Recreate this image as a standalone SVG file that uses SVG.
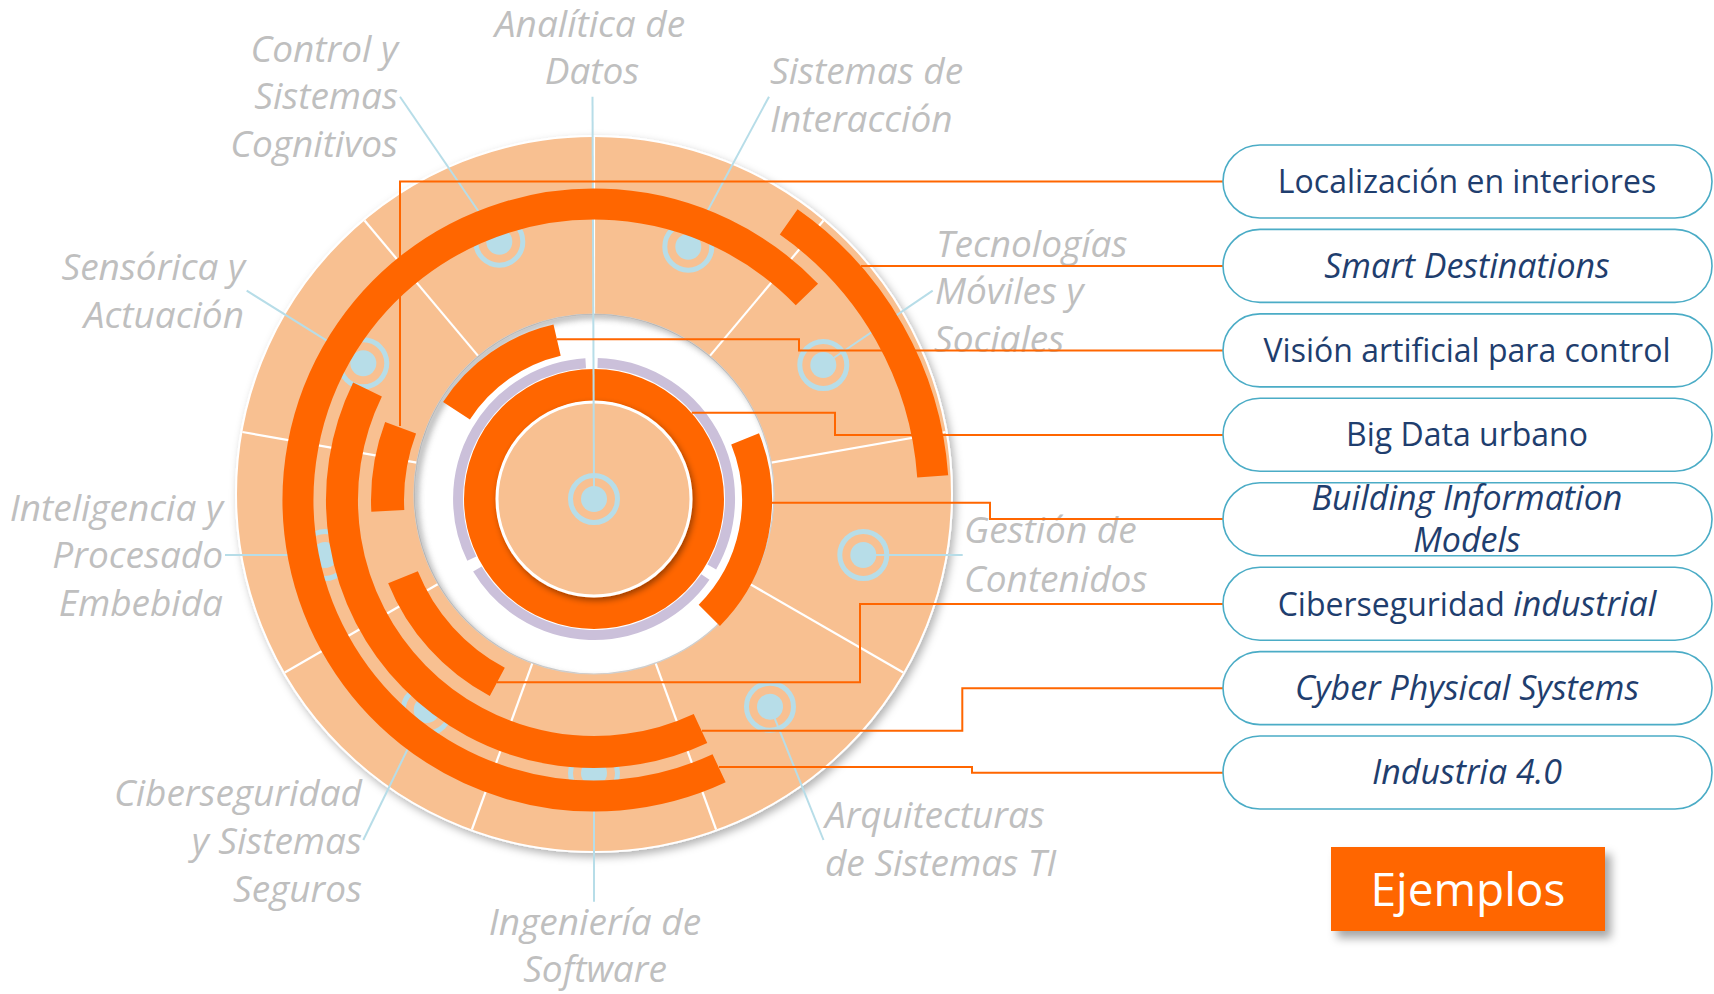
<svg xmlns="http://www.w3.org/2000/svg" width="1714" height="994" viewBox="0 0 1714 994">
<defs>
<style>
.lbl{font-family:"Open Sans","Noto Sans",sans-serif;font-style:italic;font-size:37px;fill:#BFBFBF}
.end{text-anchor:end}
.mid{text-anchor:middle}
.box{fill:#fff;stroke:#4BACC6;stroke-width:1.6}
.bt{font-family:"Open Sans","Noto Sans",sans-serif;font-size:32px;fill:#1F3E6E;text-anchor:middle}
.it{font-style:italic;font-size:34px}
.arc{fill:none;stroke:#FF6600;stroke-linecap:butt}
.conn{fill:none;stroke:#FF6600;stroke-width:2}
.lead{stroke:#B7DDE8;stroke-width:2;fill:none}
.sec{stroke:#fff;stroke-width:2.2}
.lav{fill:none;stroke:#CBC0DA;stroke-width:10}
</style>
<filter id="ds" x="-10%" y="-10%" width="130%" height="130%"><feDropShadow dx="3" dy="4" stdDeviation="4" flood-color="#000" flood-opacity="0.3"/></filter>
<filter id="ds2" x="-20%" y="-20%" width="150%" height="150%"><feDropShadow dx="2" dy="3" stdDeviation="3" flood-color="#000" flood-opacity="0.4"/></filter>
<filter id="ds3" x="-20%" y="-20%" width="150%" height="150%"><feDropShadow dx="6" dy="7" stdDeviation="5" flood-color="#000" flood-opacity="0.35"/></filter>
<filter id="blur3"><feGaussianBlur stdDeviation="3"/></filter>
<clipPath id="holeClip"><circle cx="594" cy="494" r="180"/></clipPath>
<g id="icon"><circle r="13" fill="#B7DDE8"/><circle r="23.5" fill="none" stroke="#B7DDE8" stroke-width="5"/></g>
</defs>
<rect width="1714" height="994" fill="#fff"/>

<g id="disc">
<circle cx="594" cy="494" r="358" fill="#F8C091" stroke="#fff" stroke-width="2" filter="url(#ds)"/>
<g class="sec">
<line x1="416.7" y1="462.7" x2="242.4" y2="432"/>
<line x1="478.3" y1="356.1" x2="364.5" y2="220.5"/>
<line x1="594" y1="314" x2="594" y2="137"/>
<line x1="709.7" y1="356.1" x2="823.5" y2="220.5"/>
<line x1="771.3" y1="462.7" x2="945.6" y2="432"/>
<line x1="749.9" y1="584" x2="903.2" y2="672.5"/>
<line x1="655.6" y1="663.1" x2="716.1" y2="829.5"/>
<line x1="532.4" y1="663.1" x2="471.9" y2="829.5"/>
<line x1="438.1" y1="584" x2="284.8" y2="672.5"/>
</g>
<circle cx="594" cy="494" r="180" fill="#fff" stroke="#D0D0D0" stroke-width="1.2"/>
<g clip-path="url(#holeClip)"><circle cx="598" cy="498" r="183" fill="none" stroke="#777" stroke-width="7" filter="url(#blur3)" opacity="0.55"/></g>
</g>

<g id="analitica-core">
<circle cx="594" cy="499" r="114" class="arc" stroke-width="32"/>
<path class="lav" d="M597.6,363 A136,136 0 0 1 711.8,567"/>
<path class="lav" d="M705.4,577 A136,136 0 0 1 477.4,569"/>
<path class="lav" d="M471.8,558.6 A136,136 0 0 1 585.7,363.3"/>
<circle cx="594" cy="499" r="97" fill="#F8C091" stroke="#fff" stroke-width="3" filter="url(#ds2)"/>
</g>

<g id="n-analitica">
<line class="lead" x1="592.5" y1="96.7" x2="594" y2="499"/>
<use href="#icon" x="594" y="499"/>
<text class="lbl mid" x="590" y="37">Analítica de</text>
<text class="lbl mid" x="592" y="84">Datos</text>
</g>
<g id="n-control">
<line class="lead" x1="400" y1="96.7" x2="499.3" y2="241.7"/>
<use href="#icon" x="499.3" y="241.7"/>
<text class="lbl end" x="398" y="61.7">Control y</text>
<text class="lbl end" x="398" y="109">Sistemas</text>
<text class="lbl end" x="398" y="156.7">Cognitivos</text>
</g>
<g id="n-interaccion">
<line class="lead" x1="769" y1="96.7" x2="688.3" y2="246.7"/>
<use href="#icon" x="688.3" y="246.7"/>
<text class="lbl" x="770" y="84">Sistemas de</text>
<text class="lbl" x="770" y="132">Interacción</text>
</g>
<g id="n-moviles">
<line class="lead" x1="932.7" y1="290.7" x2="823.3" y2="365"/>
<use href="#icon" x="823.3" y="365"/>
<text class="lbl" x="936" y="256.7">Tecnologías</text>
<text class="lbl" x="935" y="304">Móviles y</text>
<text class="lbl" x="934" y="351.5">Sociales</text>
</g>
<g id="n-gestion">
<line class="lead" x1="962.7" y1="555" x2="863.3" y2="555"/>
<use href="#icon" x="863.3" y="555"/>
<text class="lbl" x="964" y="543.3">Gestión de</text>
<text class="lbl" x="964" y="591.7">Contenidos</text>
</g>
<g id="n-arquitecturas">
<line class="lead" x1="823.5" y1="840" x2="770" y2="706.7"/>
<use href="#icon" x="770" y="706.7"/>
<text class="lbl" x="825" y="828">Arquitecturas</text>
<text class="lbl" x="825" y="876">de Sistemas TI</text>
</g>
<g id="n-ingenieria">
<line class="lead" x1="594" y1="901.7" x2="594" y2="773"/>
<use href="#icon" x="594" y="773"/>
<text class="lbl mid" x="595" y="935">Ingeniería de</text>
<text class="lbl mid" x="595" y="982">Software</text>
</g>
<g id="n-ciberseguridad">
<line class="lead" x1="363.3" y1="840" x2="426.7" y2="710"/>
<use href="#icon" x="426.7" y="710"/>
<text class="lbl end" x="362" y="806">Ciberseguridad</text>
<text class="lbl end" x="362" y="854">y Sistemas</text>
<text class="lbl end" x="362" y="901.7">Seguros</text>
</g>
<g id="n-inteligencia">
<line class="lead" x1="225" y1="555" x2="325" y2="555"/>
<use href="#icon" x="325" y="555"/>
<text class="lbl end" x="223" y="520.7">Inteligencia y</text>
<text class="lbl end" x="223" y="568.3">Procesado</text>
<text class="lbl end" x="223" y="616">Embebida</text>
</g>
<g id="n-sensorica">
<line class="lead" x1="246.7" y1="290.7" x2="363.3" y2="363.3"/>
<use href="#icon" x="363.3" y="363.3"/>
<text class="lbl end" x="245" y="280">Sensórica y</text>
<text class="lbl end" x="244" y="328.3">Actuación</text>
</g>

<g id="arcs">
<path id="arc-industria" class="arc" stroke-width="31" d="M719.1,768.3 A296,296 0 1 1 806.9,294.4"/>
<path id="arc-cps" class="arc" stroke-width="32" d="M700.5,728.4 A252,252 0 0 1 367.5,389.5"/>
<path id="arc-ciber" class="arc" stroke-width="32" d="M497.3,681.9 A206,206 0 0 1 403,577.2"/>
<path id="arc-local" class="arc" stroke-width="33" d="M387.8,510.8 A206.5,206.5 0 0 1 400.6,427.7"/>
<path id="arc-smart" class="arc" stroke-width="31" d="M788.7,221.9 A339.5,339.5 0 0 1 932.7,476.3"/>
<path id="arc-vision" class="arc" stroke-width="32" d="M456.5,410.7 A164,164 0 0 1 557.1,340.2"/>
<path id="arc-bim" class="arc" stroke-width="30" d="M745.1,438.9 A163,163 0 0 1 709.3,615.3"/>
</g>

<g id="connectors">
<polyline class="conn" points="1223,181.5 400,181.5 400,426"/>
<polyline class="conn" points="1223,266 861,266"/>
<polyline class="conn" points="1223,350.5 799,350.5 799,339.3 557,339.3"/>
<polyline class="conn" points="1223,435 835,435 835,412.7 691.7,412.7"/>
<polyline class="conn" points="1223,519 990,519 990,502.7 771.5,502.7"/>
<polyline class="conn" points="1223,604 860,604 860,682.3 497,682.3"/>
<polyline class="conn" points="1223,688.3 962.3,688.3 962.3,730.7 702,730.7"/>
<polyline class="conn" points="1223,772.7 972,772.7 972,767 719,767"/>
</g>

<g id="b-localizacion"><rect class="box" x="1223" y="145" width="489" height="73" rx="37"/><text class="bt" x="1467" y="193.3">Localización en interiores</text></g>
<g id="b-smart"><rect class="box" x="1223" y="229.4" width="489" height="73" rx="37"/><text class="bt it" x="1467" y="277.7">Smart Destinations</text></g>
<g id="b-vision"><rect class="box" x="1223" y="313.9" width="489" height="73" rx="37"/><text class="bt" x="1467" y="361.7">Visión artificial para control</text></g>
<g id="b-bigdata"><rect class="box" x="1223" y="398.3" width="489" height="73" rx="37"/><text class="bt" x="1467" y="446">Big Data urbano</text></g>
<g id="b-bim"><rect class="box" x="1223" y="482.7" width="489" height="73" rx="37"/><text class="bt it" x="1467" y="510">Building Information</text><text class="bt it" x="1467" y="552">Models</text></g>
<g id="b-ciber"><rect class="box" x="1223" y="567.2" width="489" height="73" rx="37"/><text class="bt" x="1467" y="616">Ciberseguridad <tspan class="it">industrial</tspan></text></g>
<g id="b-cps"><rect class="box" x="1223" y="651.6" width="489" height="73" rx="37"/><text class="bt it" x="1467" y="700">Cyber Physical Systems</text></g>
<g id="b-industria"><rect class="box" x="1223" y="736" width="489" height="73" rx="37"/><text class="bt it" x="1467" y="784">Industria 4.0</text></g>

<g id="ejemplos">
<rect x="1331" y="847" width="274" height="84" fill="#FF6600" filter="url(#ds3)"/>
<text x="1468" y="906" font-family="'Open Sans','Noto Sans',sans-serif" font-size="46" fill="#fff" text-anchor="middle">Ejemplos</text>
</g>
</svg>
